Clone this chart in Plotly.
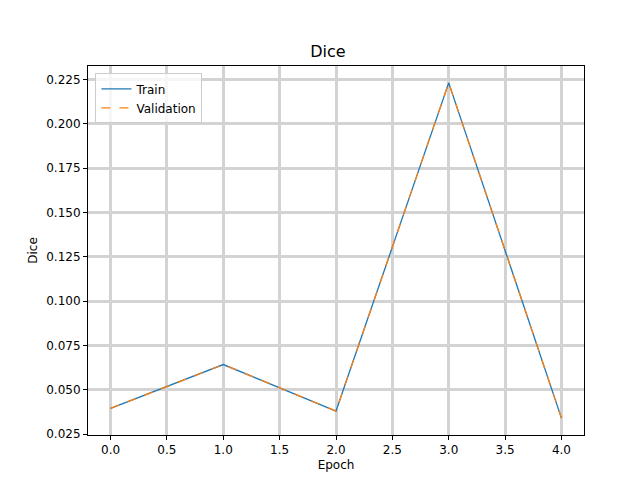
import plotly.graph_objects as go

epochs = [0, 1, 2, 3, 4]
train_dice = [0.0395, 0.0642, 0.0380, 0.2230, 0.0340]
val_dice = [0.0395, 0.0642, 0.0380, 0.2230, 0.0340]

fig = go.Figure()
fig.add_trace(go.Scatter(x=epochs, y=train_dice, mode="lines", name="Train",
                         line=dict(color="#1f77b4", width=1.3)))
fig.add_trace(go.Scatter(x=epochs, y=val_dice, mode="lines", name="Validation",
                         line=dict(color="#ff7f0e", width=1.3, dash="dash")))

axis_common = dict(showline=True, linecolor="black", mirror=True, ticks="outside",
                   tickcolor="black", ticklen=4, showgrid=True, gridcolor="#d3d3d3",
                   gridwidth=3, zeroline=False, automargin=False,
                   tickfont=dict(size=12, color="black"))

fig.update_layout(
    width=640, height=480,
    margin=dict(l=80, r=64, t=58, b=53),
    paper_bgcolor="white", plot_bgcolor="white",
    font=dict(family="DejaVu Sans", size=12, color="black"),
    title=dict(text="Dice", x=0.5, xanchor="center", y=0.91, yanchor="middle",
               font=dict(size=16), automargin=False),
    xaxis=dict(title=dict(text="Epoch", standoff=4, font=dict(size=12)), range=[-0.2, 4.2],
               tickvals=[0, 0.5, 1, 1.5, 2, 2.5, 3, 3.5, 4],
               ticktext=["0.0", "0.5", "1.0", "1.5", "2.0", "2.5", "3.0", "3.5", "4.0"],
               **axis_common),
    yaxis=dict(title=dict(text="Dice", standoff=6, font=dict(size=12)), range=[0.0245, 0.2325],
               tickvals=[0.025, 0.05, 0.075, 0.1, 0.125, 0.15, 0.175, 0.2, 0.225],
               tickformat=".3f", **axis_common),
    legend=dict(x=0.015, y=0.98, xanchor="left", yanchor="top",
                bgcolor="rgba(255,255,255,0.8)", bordercolor="#cccccc", borderwidth=1,
                font=dict(size=12)),
)

fig.write_html("out.html")
